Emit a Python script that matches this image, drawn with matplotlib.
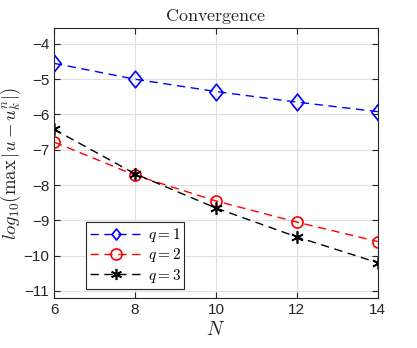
import matplotlib
matplotlib.use("Agg")
import matplotlib.pyplot as plt
from matplotlib.path import Path
import numpy as np

plt.rcParams['mathtext.fontset'] = 'cm'
plt.rcParams['font.family'] = ['Liberation Sans', 'DejaVu Sans']

N = [6, 8, 10, 12, 14]
err_q1 = [-4.55, -5.0, -5.35, -5.65, -5.92]
err_q2 = [-6.78, -7.72, -8.45, -9.05, -9.6]
err_q3 = [-6.42, -7.68, -8.65, -9.47, -10.2]
labels = [r"$q=1$", r"$q=2$", r"$q=3$"]

fig = plt.figure(figsize=(4.17, 3.48), dpi=100)
ax = fig.add_axes([0.1295, 0.1437, 0.7765, 0.7758])

# matlab-ish diamond and asterisk markers
diamond = Path([(0, 1), (0.8, 0), (0, -1), (-0.8, 0), (0, 1)],
               [Path.MOVETO, Path.LINETO, Path.LINETO, Path.LINETO, Path.CLOSEPOLY])
asterisk = (6, 2, 0)
ax.plot(N, err_q1, 'b--', marker=diamond, mfc='none', ms=12, mew=1.2, lw=1.0, dashes=(6, 4), label=labels[0])
ax.plot(N, err_q2, 'r--', marker='o', mfc='none', ms=8, mew=1.2, lw=1.0, dashes=(6, 4), label=labels[1])
ax.plot(N, err_q3, 'k--', marker=asterisk, ms=9, mew=1.2, lw=1.0, dashes=(6, 4), label=labels[2])

ax.set_xlim(6, 14)
ax.set_ylim(-11.2, -3.55)
ax.set_xticks(np.arange(6, 15, 2))
ax.set_yticks(np.arange(-11, -3, 1))
ax.grid(True, color='#e0e0e0', lw=0.8)
ax.set_axisbelow(True)
ax.tick_params(direction='in', top=True, right=True, labelsize=11, colors='#262626', length=4)
for s in ax.spines.values():
    s.set_color('#262626')
    s.set_linewidth(0.8)

ax.set_title(r"$\mathrm{Convergence}$", fontsize=13, color='#262626', pad=5)
ax.set_xlabel(r"$N$", fontsize=14, color='#262626', labelpad=3)
ax.set_ylabel(r"$log_{10}(\max\,|u-u_k^n|)$", fontsize=13.5, color='#262626')
ax.yaxis.set_label_coords(-0.095, 0.5)

leg = ax.legend(loc='lower left', bbox_to_anchor=(0.098, 0.035), fancybox=False, framealpha=1,
                edgecolor='#262626', fontsize=11, handlelength=3.5, handletextpad=0.3,
                borderpad=0.25, labelspacing=0.15, borderaxespad=0)
leg.get_frame().set_linewidth(0.8)
for h in leg.legend_handles:
    h.set_markersize(8)

fig.savefig("out.png", dpi=100)
